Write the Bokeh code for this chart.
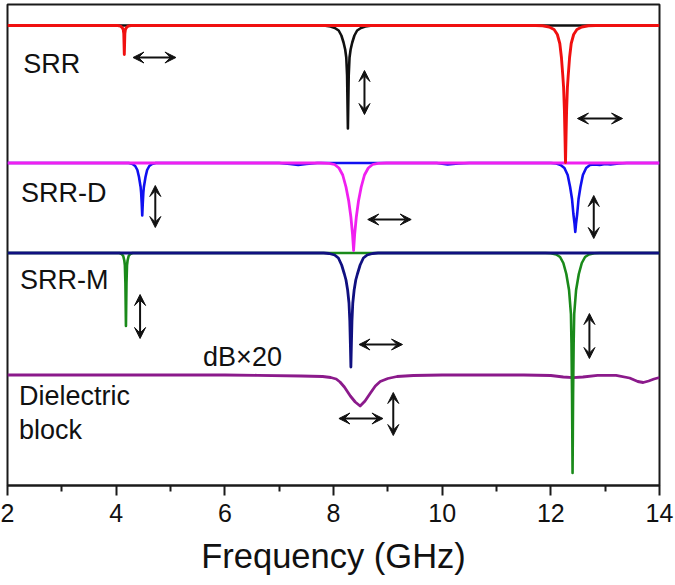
import numpy as np
from bokeh.plotting import figure
from bokeh.models import Range1d, FixedTicker, Label, Arrow, VeeHead
from bokeh.embed import file_html
from bokeh.resources import INLINE

# ---------------- data (frequency in GHz, dip depth in display units) ----------------
srr_red_f = [2.0, 3.9, 4.03, 4.08, 4.11, 4.13, 4.14, 4.15, 4.16, 4.17, 4.19, 4.22, 4.27,
             11.6, 11.72, 11.85, 11.97, 12.06, 12.12, 12.165, 12.195, 12.22, 12.235, 12.25, 12.26,
             12.27, 12.28, 12.29, 12.305, 12.32, 12.345, 12.375, 12.42, 12.48, 12.57, 12.69, 12.82, 14.0]
srr_red_d = [0, 0, 0, 0.7, 2, 4, 8, 29, 8, 4, 2, 0.7, 0,
             0, 0, 0.3, 1.5, 4, 9, 18, 32, 50, 62, 85, 110,
             137, 110, 85, 62, 50, 32, 18, 9, 4, 1.5, 0.3, 0, 0]

srr_black_f = [2.0, 7.82, 7.945, 8.025, 8.095, 8.145, 8.185, 8.215, 8.235, 8.25, 8.265,
               8.28, 8.295, 8.315, 8.345, 8.385, 8.435, 8.505, 8.585, 8.715, 14.0]
srr_black_d = [0, 0, 1, 2.5, 5, 10, 17, 24, 32, 50, 103,
               50, 32, 24, 17, 10, 5, 2.5, 1, 0, 0]

srrd_blue_f = [2.0, 4.23, 4.30, 4.35, 4.39, 4.42, 4.45, 4.46, 4.47, 4.48, 4.49, 4.50, 4.51,
               4.54, 4.57, 4.61, 4.66, 4.73, 7.0, 7.2, 7.35, 7.5, 7.7, 9.9, 10.1, 10.3, 10.5,
               12.0, 12.1, 12.18, 12.25, 12.31, 12.355, 12.39, 12.415, 12.435, 12.45, 12.465,
               12.485, 12.51, 12.545, 12.59, 12.65, 12.72, 12.8, 12.9, 13.0, 13.1, 13.25, 13.4, 14.0]
srrd_blue_d = [0, 0, 1, 3, 7, 14, 24, 30, 40, 52.5, 40, 30, 24,
               14, 7, 3, 1, 0, 0, 1, 2, 1, 0, 0, 1.5, 0.5, 0,
               0, 0.5, 2, 5, 12, 24, 36, 51, 60, 69, 60,
               51, 36, 24, 12, 5, 2, 1.5, 2, 1, 1.5, 0.5, 0, 0]

srrd_mag_f = [2.0, 7.77, 7.92, 8.02, 8.10, 8.17, 8.23, 8.28, 8.32, 8.35, 8.37, 8.39, 8.42,
              8.46, 8.51, 8.57, 8.64, 8.72, 8.82, 8.97, 14.0]
srrd_mag_d = [0, 0, 0.3, 1.5, 5, 12, 24, 38, 54, 71, 87.5, 71, 54,
              38, 24, 12, 5, 1.5, 0.3, 0, 0]

srrm_navy_f = [2.0, 7.82, 7.92, 8.02, 8.09, 8.15, 8.20, 8.23, 8.26, 8.285, 8.30, 8.31, 8.32,
               8.33, 8.34, 8.355, 8.38, 8.41, 8.44, 8.49, 8.55, 8.62, 8.72, 8.82, 14.0]
srrm_navy_d = [0, 0, 0.5, 2, 5, 12, 21, 27, 37, 50, 68, 90, 114,
               90, 68, 50, 37, 27, 21, 12, 5, 2, 0.5, 0, 0]

srrm_green_f = [2.0, 4.06, 4.10, 4.13, 4.15, 4.16, 4.17, 4.18, 4.19, 4.20, 4.21, 4.23, 4.26, 4.30,
                11.9, 12.0, 12.10, 12.17, 12.23, 12.285, 12.335, 12.37, 12.38, 12.39, 12.395, 12.40,
                12.405, 12.41, 12.42, 12.43, 12.465, 12.515, 12.57, 12.63, 12.70, 12.80, 12.9, 14.0]
srrm_green_d = [0, 0, 1, 3, 7.5, 12, 30, 73, 30, 12, 7.5, 3, 1, 0,
                0, 0.3, 1.5, 4, 10, 21, 37, 61, 90, 140, 180, 220,
                180, 140, 90, 61, 37, 21, 10, 4, 1.5, 0.3, 0, 0]

diel_f = [2.0, 6.0, 6.6, 7.4, 7.8, 7.95, 8.05, 8.12, 8.2, 8.31, 8.4, 8.49, 8.58, 8.68, 8.77,
          8.86, 9.0, 9.17, 9.47, 10.0, 11.5, 12.0, 12.23, 12.41, 12.59, 12.86, 13.2, 13.45,
          13.6, 13.7, 13.8, 13.9, 14.0]
diel_d = [0, 0, 0.3, 1, 1.5, 2.5, 4, 7, 12, 21, 27, 31, 26, 18, 11,
          6.5, 3.5, 1.5, 0.5, 0, 0, 0.5, 2, 2.7, 2, 0.3, 0.3, 3,
          6.5, 7.5, 6, 4, 2.5]

x_ticks = [2, 4, 6, 8, 10, 12, 14]
x_minor = [3, 5, 7, 9, 11, 13]

# ---------------- layout constants ----------------
FONT = "Liberation Sans"
base = {"SRR": 25, "SRR-D": 162.5, "SRR-M": 252.5, "Diel": 374.5}

p = figure(width=675, height=585, output_backend="svg", toolbar_location=None,
           x_range=Range1d(2, 14), y_range=Range1d(-485, -4),
           y_axis_location=None, min_border_left=7, min_border_right=16,
           min_border_top=4, min_border_bottom=100)
p.grid.visible = False
p.outline_line_color = "#1a1a1a"
p.outline_line_width = 2
p.background_fill_color = "white"
p.border_fill_color = "white"

def trace(f, d, key, color, lw):
    y = -(base[key] + np.asarray(d, dtype=float))
    p.line(f, y, line_color=color, line_width=lw, line_join="round")

trace(diel_f, diel_d, "Diel", "#8b1a8b", 2.8)
trace(srrm_green_f, srrm_green_d, "SRR-M", "#1a8a1a", 2.6)
trace(srrm_navy_f, srrm_navy_d, "SRR-M", "#101080", 2.8)
trace(srrd_blue_f, srrd_blue_d, "SRR-D", "#1010f0", 2.6)
trace(srrd_mag_f, srrd_mag_d, "SRR-D", "#f020f0", 2.8)
trace(srr_black_f, srr_black_d, "SRR", "#101010", 2.6)
trace(srr_red_f, srr_red_d, "SRR", "#f01010", 2.9)

# axis
ax = p.xaxis[0]
ax.ticker = FixedTicker(ticks=x_ticks, minor_ticks=x_minor)
ax.axis_line_width = 2
ax.axis_line_color = "#1a1a1a"
ax.major_tick_line_width = 2
ax.major_tick_line_color = "#1a1a1a"
ax.minor_tick_line_width = 2
ax.minor_tick_line_color = "#1a1a1a"
ax.major_tick_out = 10
ax.major_tick_in = 0
ax.minor_tick_out = 6
ax.minor_tick_in = 0
ax.major_label_text_font = FONT
ax.major_label_text_font_size = "25px"
ax.major_label_text_color = "#111111"
ax.major_label_standoff = 8
ax.axis_label = "Frequency (GHz)"
ax.axis_label_text_font = FONT
ax.axis_label_text_font_size = "34.5px"
ax.axis_label_text_font_style = "normal"
ax.axis_label_text_color = "#111111"
ax.axis_label_standoff = 12

# labels
for txt, xx, yy in [("SRR", 2.29, -63), ("SRR-D", 2.25, -192), ("SRR-M", 2.23, -279),
                    ("dB×20", 5.60, -356), ("Dielectric", 2.21, -395), ("block", 2.21, -429)]:
    p.add_layout(Label(x=xx, y=yy, text=txt, text_font=FONT, text_font_size="27px",
                       text_color="#111111", text_baseline="alphabetic", text_align="left"))

# double arrows
arrows = [(4.31, -57, 5.10, -57), (8.57, -70, 8.57, -114), (12.49, -118, 13.32, -118),
          (4.72, -185, 4.72, -227), (8.63, -219, 9.43, -219), (12.79, -195, 12.79, -238),
          (4.44, -294, 4.44, -338), (8.47, -344, 9.27, -344), (12.71, -313, 12.71, -358),
          (8.10, -418, 8.91, -418), (9.10, -392, 9.10, -435)]
for x0, y0, x1, y1 in arrows:
    p.add_layout(Arrow(x_start=x0, y_start=y0, x_end=x1, y_end=y1,
                       line_color="#111111", line_width=2,
                       start=VeeHead(size=11, fill_color="#111111", line_color="#111111"),
                       end=VeeHead(size=11, fill_color="#111111", line_color="#111111")))

open("out.html", "w").write(file_html(p, INLINE))
